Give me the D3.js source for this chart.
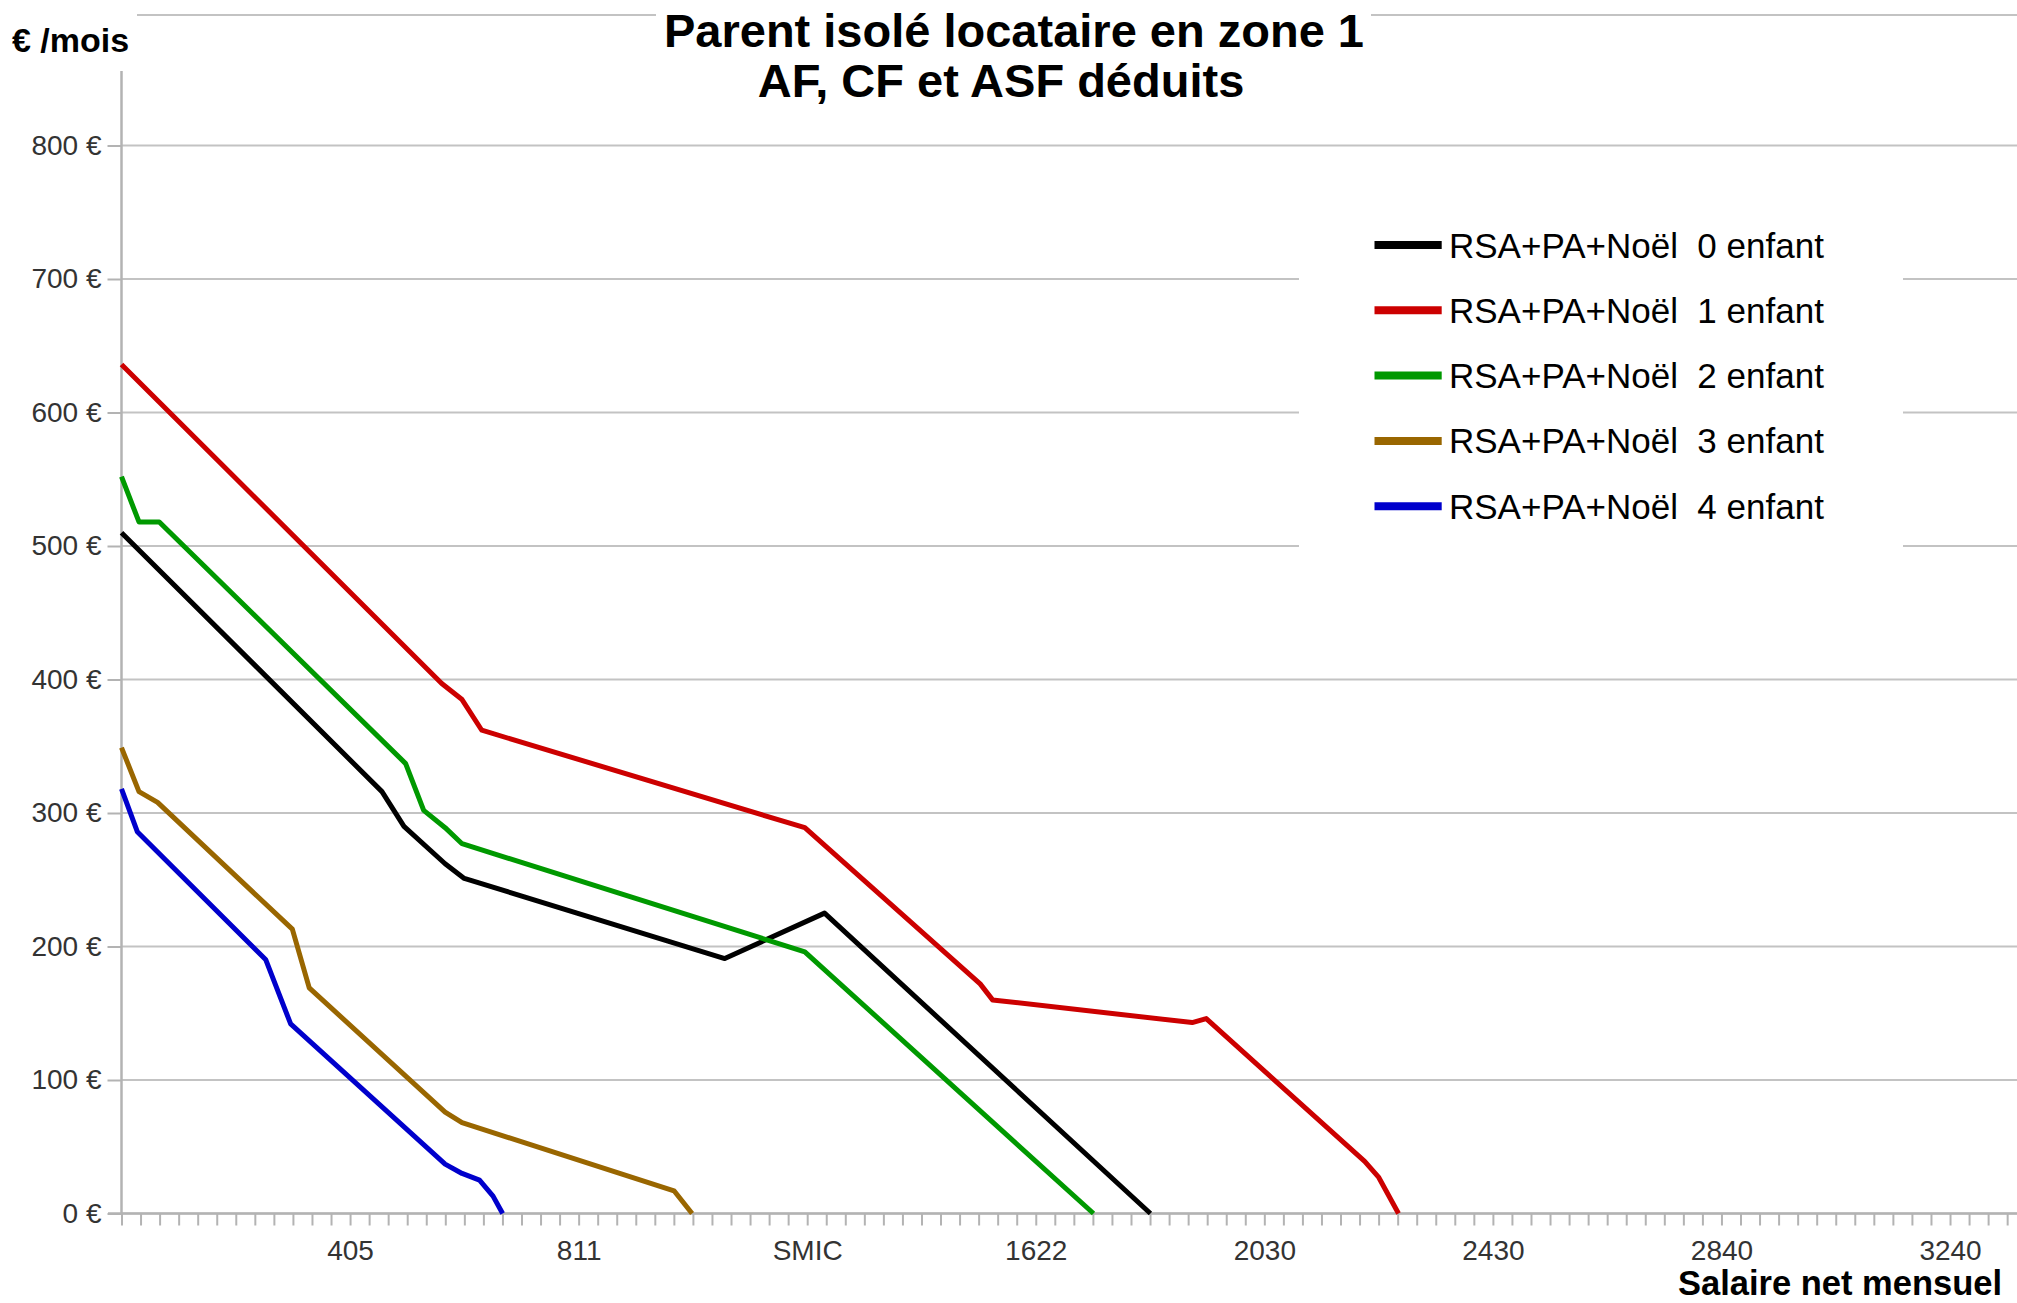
<!DOCTYPE html>
<html>
<head>
<meta charset="utf-8">
<script src="https://cdn.jsdelivr.net/npm/d3@7"></script>
<style>
  body { margin: 0; background: #fff; }
  text { font-family: "Liberation Sans", Arial, sans-serif; }
</style>
</head>
<body>
<script>
// salaire net mensuel (€) / montant (€ par mois)
const salaire0 = [0, 462, 501, 574, 608, 1070, 1247, 1825];
const montant0 = [510, 316, 290, 262, 251, 191, 225, 0];
const salaire1 = [0, 568, 604, 639, 1212, 1523, 1545, 1899, 1924, 2205, 2230, 2265];
const montant1 = [636, 397, 385, 362, 289, 172, 160, 143, 146, 39, 27, 0];
const salaire2 = [0, 31, 67, 504, 536, 574, 604, 1212, 1724];
const montant2 = [552, 518, 518, 337, 302, 289, 277, 196, 0];
const salaire3 = [0, 31, 64, 303, 333, 574, 604, 980, 1012];
const montant3 = [349, 316, 308, 213, 169, 76, 68, 17, 0];
const salaire4 = [0, 28, 256, 300, 574, 604, 635, 659, 676];
const montant4 = [318, 286, 190, 142, 37, 30, 25, 13, 0];

const seriesNames = ["RSA+PA+Noël  0 enfant", "RSA+PA+Noël  1 enfant", "RSA+PA+Noël  2 enfant",
                     "RSA+PA+Noël  3 enfant", "RSA+PA+Noël  4 enfant"];
const seriesColors = ["#000000", "#cc0000", "#009900", "#996600", "#0000cc"];

const smic = 1216.2;
const xStep = smic / 36;
const xLabels = ["405", "811", "SMIC", "1622", "2030", "2430", "2840", "3240"];
const yTicks = [0, 100, 200, 300, 400, 500, 600, 700, 800];

const width = 2017, height = 1303;
const svg = d3.select("body").append("svg")
    .attr("width", width)
    .attr("height", height);

svg.append("rect").attr("width", width).attr("height", height).attr("fill", "white");

const x = d3.scaleLinear().domain([0, 3362]).range([121.5, width]);
const y = d3.scaleLinear().domain([0, 900]).range([1213.5, 12]);

// grid
svg.append("g").selectAll("line")
    .data(yTicks)
    .join("line")
    .attr("x1", x(0))
    .attr("x2", width)
    .attr("y1", d => y(d))
    .attr("y2", d => y(d))
    .attr("stroke", "#c3c3c3")
    .attr("stroke-width", 2);

// top border of the plot area
svg.append("line")
    .attr("x1", x(0)).attr("x2", width)
    .attr("y1", 15).attr("y2", 15)
    .attr("stroke", "#c3c3c3")
    .attr("stroke-width", 2);

// y axis
const yAxis = d3.axisLeft(y)
    .tickValues(yTicks)
    .tickSize(14)
    .tickPadding(6)
    .tickFormat(d => d + " €");

svg.append("g")
    .attr("transform", `translate(${x(0)},0)`)
    .call(yAxis)
    .call(g => g.select(".domain").remove())
    .call(g => g.selectAll(".tick line").attr("stroke", "#b3b3b3").attr("stroke-width", 2))
    .call(g => g.selectAll(".tick text")
        .attr("font-size", 28)
        .attr("fill", "#333")
        .style("font-family", "'Liberation Sans', Arial, sans-serif"));

svg.append("line")
    .attr("x1", x(0)).attr("x2", x(0))
    .attr("y1", 71).attr("y2", y(0))
    .attr("stroke", "#b3b3b3")
    .attr("stroke-width", 2.5);

// x axis
const xTickValues = d3.range(0, 100).map(i => i * xStep);
const xAxis = d3.axisBottom(x)
    .tickValues(xTickValues)
    .tickSize(12)
    .tickPadding(15)
    .tickFormat((d, i) => (i > 0 && i % 12 === 0) ? xLabels[i / 12 - 1] : "");

svg.append("g")
    .attr("transform", `translate(0,${y(0)})`)
    .call(xAxis)
    .call(g => g.select(".domain").remove())
    .call(g => g.selectAll(".tick line").attr("stroke", "#b3b3b3").attr("stroke-width", 2))
    .call(g => g.selectAll(".tick text")
        .attr("font-size", 28)
        .attr("fill", "#333")
        .style("font-family", "'Liberation Sans', Arial, sans-serif"));

svg.append("line")
    .attr("x1", 108).attr("x2", width)
    .attr("y1", y(0)).attr("y2", y(0))
    .attr("stroke", "#b3b3b3")
    .attr("stroke-width", 2.5);

// series
const series = [
    [salaire0, montant0],
    [salaire1, montant1],
    [salaire2, montant2],
    [salaire3, montant3],
    [salaire4, montant4]
];

const line = d3.line()
    .x(d => x(d[0]))
    .y(d => y(d[1]));

series.forEach((s, i) => {
    const pts = s[0].map((v, j) => [v, s[1][j]]);
    svg.append("path")
        .datum(pts)
        .attr("d", line)
        .attr("fill", "none")
        .attr("stroke", seriesColors[i])
        .attr("stroke-width", 5)
        .attr("stroke-linejoin", "round");
});

// boxes that hide the top line behind the title and unit
svg.append("rect").attr("x", 0).attr("y", 0).attr("width", 137).attr("height", 70).attr("fill", "white");
svg.append("rect").attr("x", 656).attr("y", 0).attr("width", 715).attr("height", 105).attr("fill", "white");

// title
svg.append("text")
    .attr("x", 1014)
    .attr("y", 47)
    .attr("text-anchor", "middle")
    .attr("font-weight", "bold")
    .attr("font-size", 47)
    .text("Parent isolé locataire en zone 1");

svg.append("text")
    .attr("x", 1001)
    .attr("y", 97)
    .attr("text-anchor", "middle")
    .attr("font-weight", "bold")
    .attr("font-size", 47)
    .text("AF, CF et ASF déduits");

svg.append("text")
    .attr("x", 12)
    .attr("y", 52)
    .attr("font-weight", "bold")
    .attr("font-size", 34)
    .text("€ /mois");

svg.append("text")
    .attr("x", 2002)
    .attr("y", 1295)
    .attr("text-anchor", "end")
    .attr("font-weight", "bold")
    .attr("font-size", 34.5)
    .text("Salaire net mensuel");

// legend
svg.append("rect")
    .attr("x", 1299).attr("y", 190)
    .attr("width", 604).attr("height", 370)
    .attr("fill", "white");

seriesNames.forEach((name, i) => {
    const ly = 245 + i * 65.3;
    svg.append("line")
        .attr("x1", 1374.5).attr("x2", 1441.7)
        .attr("y1", ly).attr("y2", ly)
        .attr("stroke", seriesColors[i])
        .attr("stroke-width", 8);
    svg.append("text")
        .attr("x", 1449)
        .attr("y", ly + 12.5)
        .attr("font-size", 35)
        .style("white-space", "pre")
        .text(name);
});
</script>
</body>
</html>
